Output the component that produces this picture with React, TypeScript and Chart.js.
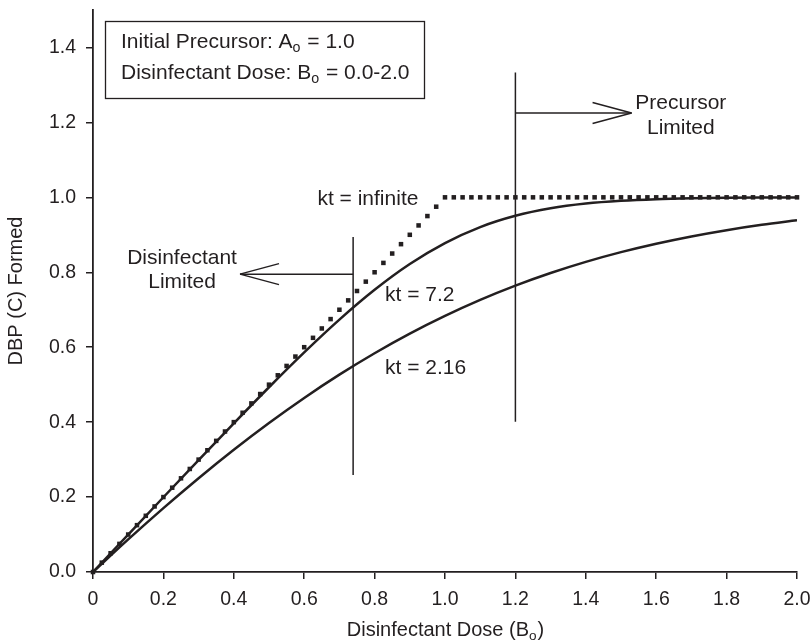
import { useEffect, useRef } from 'react';
import { Chart, registerables } from 'chart.js';

Chart.register(...registerables);

// ---- data ----
const xTicks = [0, 0.2, 0.4, 0.6, 0.8, 1.0, 1.2, 1.4, 1.6, 1.8, 2.0];
const yTicks = [0, 0.2, 0.4, 0.6, 0.8, 1.0, 1.2, 1.4];

const doseCoarse = [0, 0.1, 0.2, 0.3, 0.4, 0.5, 0.6, 0.7, 0.8, 0.9, 1.0, 1.1, 1.2, 1.3, 1.4, 1.5, 1.6, 1.7, 1.8, 1.9, 2.0];
const cKt72 = [0, 0.0999, 0.1995, 0.2986, 0.3968, 0.4931, 0.5861, 0.6737, 0.7532, 0.822, 0.878, 0.9207, 0.9508, 0.9708, 0.9833, 0.9907, 0.995, 0.9973, 0.9986, 0.9993, 0.9996];
const cKt216 = [0, 0.0869, 0.1705, 0.2504, 0.3263, 0.3977, 0.4646, 0.5267, 0.5839, 0.6362, 0.6835, 0.7262, 0.7643, 0.798, 0.8277, 0.8537, 0.8762, 0.8957, 0.9124, 0.9267, 0.9388];

const doseFine = [
  0, 0.025, 0.05, 0.075, 0.1, 0.125, 0.15, 0.175, 0.2, 0.225, 0.25, 0.275, 0.3, 0.325, 0.35, 0.375,
  0.4, 0.425, 0.45, 0.475, 0.5, 0.525, 0.55, 0.575, 0.6, 0.625, 0.65, 0.675, 0.7, 0.725, 0.75, 0.775,
  0.8, 0.825, 0.85, 0.875, 0.9, 0.925, 0.95, 0.975, 1.0, 1.025, 1.05, 1.075, 1.1, 1.125, 1.15, 1.175,
  1.2, 1.225, 1.25, 1.275, 1.3, 1.325, 1.35, 1.375, 1.4, 1.425, 1.45, 1.475, 1.5, 1.525, 1.55, 1.575,
  1.6, 1.625, 1.65, 1.675, 1.7, 1.725, 1.75, 1.775, 1.8, 1.825, 1.85, 1.875, 1.9, 1.925, 1.95, 1.975, 2.0,
];
const cInfinite = [
  0, 0.025, 0.05, 0.075, 0.1, 0.125, 0.15, 0.175, 0.2, 0.225, 0.25, 0.275, 0.3, 0.325, 0.35, 0.375,
  0.4, 0.425, 0.45, 0.475, 0.5, 0.525, 0.55, 0.575, 0.6, 0.625, 0.65, 0.675, 0.7, 0.725, 0.75, 0.775,
  0.8, 0.825, 0.85, 0.875, 0.9, 0.925, 0.95, 0.975, 1, 1, 1, 1, 1, 1, 1, 1,
  1, 1, 1, 1, 1, 1, 1, 1, 1, 1, 1, 1, 1, 1, 1, 1,
  1, 1, 1, 1, 1, 1, 1, 1, 1, 1, 1, 1, 1, 1, 1, 1, 1,
];

const seriesLabels = ['kt = infinite', 'kt = 7.2', 'kt = 2.16'];

// ---- styling ----
const FONT = '"Liberation Sans", Arial, Helvetica, sans-serif';
const INK = '#231f20';

type Part = { t: string; sub?: boolean };

function drawRich(ctx: CanvasRenderingContext2D, parts: Part[], x: number, y: number, size: number, align: 'left' | 'center') {
  const subSize = size * 0.68;
  const widths = parts.map((p) => {
    ctx.font = `${p.sub ? subSize : size}px ${FONT}`;
    return ctx.measureText(p.t).width;
  });
  const total = widths.reduce((a, b) => a + b, 0);
  let cx = align === 'center' ? x - total / 2 : x;
  ctx.textAlign = 'left';
  ctx.textBaseline = 'middle';
  parts.forEach((p, i) => {
    ctx.font = `${p.sub ? subSize : size}px ${FONT}`;
    ctx.fillText(p.t, cx, p.sub ? y + size * 0.3 : y);
    cx += widths[i] + (p.sub ? 1 : 0);
  });
}

const annotPlugin = {
  id: 'annot',
  afterDraw(chart: any) {
    const { ctx, scales } = chart;
    const X = (v: number) => scales.x.getPixelForValue(v);
    const Y = (v: number) => scales.y.getPixelForValue(v);
    ctx.save();
    ctx.strokeStyle = INK;
    ctx.fillStyle = INK;

    // limit lines
    ctx.lineWidth = 1.5;
    const line = (x0: number, y0: number, x1: number, y1: number) => {
      ctx.beginPath();
      ctx.moveTo(x0, y0);
      ctx.lineTo(x1, y1);
      ctx.stroke();
    };
    line(X(1.2), Y(0.401), X(1.2), Y(1.333));
    line(X(0.739), Y(0.259), X(0.739), Y(0.894));

    // arrows
    const arrow = (xs: number, xe: number, yv: number) => {
      const y = Y(yv);
      const a = X(xs);
      const b = X(xe);
      line(a, y, b, y);
      const dir = b > a ? -1 : 1;
      line(b, y, b + dir * 39, y - 10.5);
      line(b, y, b + dir * 39, y + 10.5);
    };
    arrow(1.2, 1.53, 1.225);
    arrow(0.739, 0.4176, 0.795);

    // labels
    ctx.fillStyle = INK;
    drawRich(ctx, [{ t: 'Precursor' }], X(1.67), Y(1.252), 21, 'center');
    drawRich(ctx, [{ t: 'Limited' }], X(1.67), Y(1.185), 21, 'center');
    drawRich(ctx, [{ t: 'Disinfectant' }], X(0.253), Y(0.838), 21, 'center');
    drawRich(ctx, [{ t: 'Limited' }], X(0.253), Y(0.774), 21, 'center');
    drawRich(ctx, [{ t: seriesLabels[0] }], X(0.781), Y(0.996), 21, 'center');
    drawRich(ctx, [{ t: seriesLabels[1] }], X(0.8295), Y(0.739), 21, 'left');
    drawRich(ctx, [{ t: seriesLabels[2] }], X(0.8295), Y(0.544), 21, 'left');

    // text box
    const bx0 = 105, by0 = 21, bx1 = 424, by1 = 98;
    ctx.fillStyle = '#ffffff';
    ctx.fillRect(bx0, by0, bx1 - bx0, by1 - by0);
    ctx.lineWidth = 1.3;
    ctx.strokeRect(bx0 + 0.5, by0 + 0.5, bx1 - bx0, by1 - by0);
    ctx.fillStyle = INK;
    drawRich(ctx, [{ t: 'Initial Precursor: A' }, { t: 'o', sub: true }, { t: ' = 1.0' }], 121, 42, 21, 'left');
    drawRich(ctx, [{ t: 'Disinfectant Dose: B' }, { t: 'o', sub: true }, { t: ' = 0.0-2.0' }], 121, 73, 21, 'left');

    // axis titles
    drawRich(ctx, [{ t: 'Disinfectant Dose (B' }, { t: 'o', sub: true }, { t: ')' }], (chart.chartArea.left + chart.chartArea.right) / 2, 630, 20, 'center');
    ctx.save();
    ctx.translate(16, 291);
    ctx.rotate(-Math.PI / 2);
    drawRich(ctx, [{ t: 'DBP (C) Formed' }], 0, 0, 20, 'center');
    ctx.restore();

    ctx.restore();
  },
};

export default function App() {
  const ref = useRef<HTMLCanvasElement>(null);

  useEffect(() => {
    const canvas = ref.current!;
    const tickFont = { family: FONT, size: 19.5 };
    const chart = new Chart(canvas, {
      type: 'line',
      data: {
        datasets: [
          {
            label: seriesLabels[0],
            data: doseFine.map((x, i) => ({ x, y: cInfinite[i] })),
            showLine: false,
            pointStyle: 'rect',
            pointRadius: 3.2,
            pointBackgroundColor: INK,
            pointBorderWidth: 0,
            borderColor: INK,
            clip: 6,
          } as any,
          {
            label: seriesLabels[1],
            data: doseCoarse.map((x, i) => ({ x, y: cKt72[i] })),
            borderColor: INK,
            borderWidth: 2.5,
            pointRadius: 0,
            cubicInterpolationMode: 'monotone',
            fill: false,
          },
          {
            label: seriesLabels[2],
            data: doseCoarse.map((x, i) => ({ x, y: cKt216[i] })),
            borderColor: INK,
            borderWidth: 2.5,
            pointRadius: 0,
            cubicInterpolationMode: 'monotone',
            fill: false,
          },
        ],
      },
      options: {
        responsive: false,
        animation: false,
        layout: { padding: { top: 10, right: 15, left: 0, bottom: 0 } },
        plugins: { legend: { display: false }, tooltip: { enabled: false } },
        scales: {
          x: {
            type: 'linear',
            min: 0,
            max: 2,
            afterBuildTicks: (s: any) => {
              s.ticks = xTicks.map((v) => ({ value: v }));
            },
            afterFit: (s: any) => {
              s.height = 69;
              s.paddingLeft = 0;
              s.paddingRight = 0;
            },
            grid: { drawOnChartArea: false, drawTicks: true, tickLength: 7, color: INK, lineWidth: 1.5 },
            border: { color: INK, width: 1.8 },
            ticks: {
              font: tickFont,
              color: INK,
              padding: 9,
              maxRotation: 0,
              autoSkip: false,
              callback: (v: any) => (Number(v) === 0 ? '0' : Number(v).toFixed(1)),
            },
          },
          y: {
            type: 'linear',
            min: 0,
            max: 1.5,
            afterBuildTicks: (s: any) => {
              s.ticks = yTicks.map((v) => ({ value: v }));
            },
            afterFit: (s: any) => {
              s.width = 93;
              s.paddingTop = 0;
              s.paddingBottom = 0;
            },
            grid: { drawOnChartArea: false, drawTicks: true, tickLength: 7, color: INK, lineWidth: 1.5 },
            border: { color: INK, width: 1.8 },
            ticks: {
              font: tickFont,
              color: INK,
              padding: 10,
              autoSkip: false,
              callback: (v: any) => Number(v).toFixed(1),
            },
          },
        },
      },
      plugins: [annotPlugin],
    });
    return () => chart.destroy();
  }, []);

  return (
    <div style={{ position: 'absolute', left: 0, top: 0, width: 812, height: 641, background: '#fff' }}>
      <canvas ref={ref} width={812} height={641} style={{ width: 812, height: 641, display: 'block' }} />
    </div>
  );
}
